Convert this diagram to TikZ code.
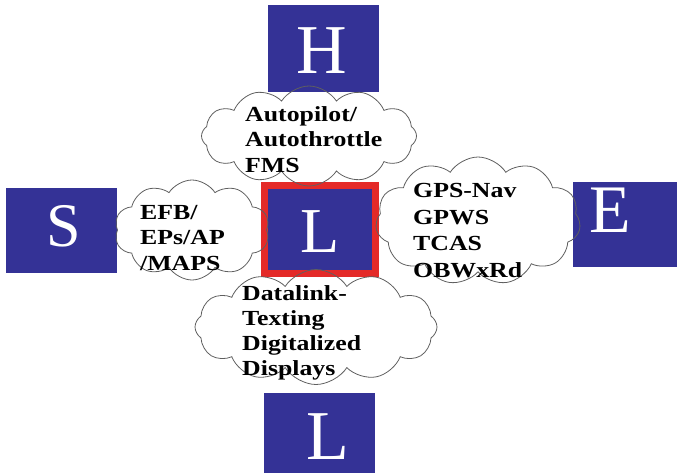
\documentclass[tikz,border=0pt]{standalone}
\usepackage{fontspec}
\setmainfont{Liberation Serif}
\newfontfamily\cloudfont{Liberation Serif}[FakeStretch=1.2]
\usetikzlibrary{shapes.symbols}

\definecolor{boxblue}{RGB}{52,50,150}
\definecolor{framered}{RGB}{228,42,40}
\definecolor{cloudline}{RGB}{95,95,95}

\tikzset{
  factor/.style={draw=none, fill=boxblue, rectangle, inner sep=0pt},
  letter/.style={text=white, inner sep=0pt, font=\fontsize{#1}{#1}\selectfont},
  bubble/.style={cloud, draw=cloudline, line width=0.8pt, cloud ignores aspect,
    inner sep=0pt},
  % multi-line texts are placed by the baseline of their last line
  bubbletext/.style={anchor=base west, inner sep=0pt, align=left,
    font=\cloudfont\bfseries\fontsize{21.5}{25.5}\selectfont}
}

\begin{document}
\begin{tikzpicture}[x=1pt, y=-1pt]
\useasboundingbox (0,0) rectangle (677,475);

% the four outer SHEL factors
\node[factor, minimum width=111pt, minimum height=87pt] (Hbox) at (323.5,48.5) {};
\node[factor, minimum width=111pt, minimum height=85pt] (Sbox) at (61.5,230.5) {};
\node[factor, minimum width=106pt, minimum height=85pt] (Ebox) at (626,224.5) {};
\node[factor, minimum width=111pt, minimum height=80pt] (Lbox) at (319.5,433) {};

% central liveware, framed in red
\node[factor, draw=framered, line width=7pt, minimum width=111pt,
      minimum height=88pt] (center) at (319.5,229) {};

\node[letter=70] (Hl) at (322,51) {H};
\node[letter=62] (Sl) at (64,226) {S};
\node[letter=68] (El) at (610,210) {E};
\node[letter=70] (Ll) at (328,437) {L};
\node[letter=64] (Cl) at (320,232) {L};

% interface clouds
\node[bubble, cloud puffs=12, cloud puff arc=115,
      minimum width=215pt, minimum height=100pt] (topcloud) at (309,136) {};
\node[bubble, cloud puffs=10, cloud puff arc=115,
      minimum width=155pt, minimum height=100pt] (leftcloud) at (192,230) {};
\node[bubble, cloud puffs=11, cloud puff arc=115,
      minimum width=205pt, minimum height=128pt] (rightcloud) at (478,221) {};
\node[bubble, cloud puffs=12, cloud puff arc=115,
      minimum width=242pt, minimum height=115pt] (bottomcloud) at (316,327) {};

% cloud texts
\node[bubbletext] (toptext) at (245,172) {Autopilot/\\Autothrottle\\FMS};
\node[bubbletext] (lefttext) at (140,270) {EFB/\\EPs/AP\\/MAPS};
\node[bubbletext, font=\cloudfont\bfseries\fontsize{21.5}{26.5}\selectfont]
  (righttext) at (413,277) {GPS-Nav\\GPWS\\TCAS\\OBWxRd};
\node[bubbletext, font=\cloudfont\bfseries\fontsize{21.5}{25}\selectfont]
  (bottomtext) at (242,375) {Datalink-\\Texting\\Digitalized\\Displays};
\end{tikzpicture}
\end{document}
